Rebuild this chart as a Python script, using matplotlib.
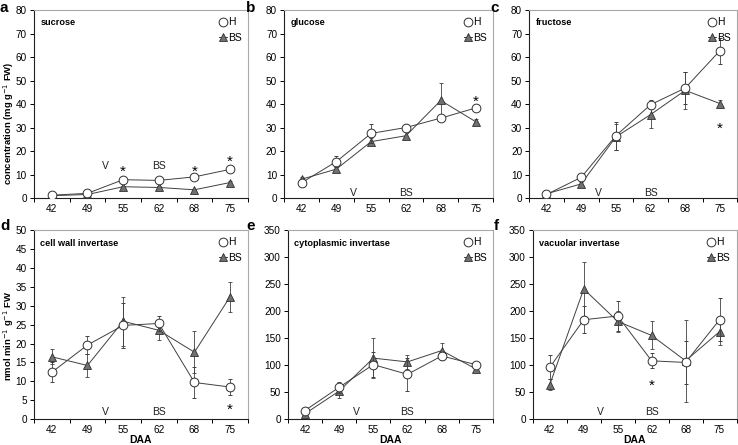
import numpy as np
import matplotlib
matplotlib.use("Agg")
import matplotlib.pyplot as plt
from matplotlib.lines import Line2D

plt.rcParams['font.family'] = ['Liberation Sans', 'DejaVu Sans']
plt.rcParams['font.size'] = 7.5

days = ['42', '49', '55', '62', '68', '75']

# sugars (mg g-1 FW)
suc_h = [1.2, 2.0, 7.8, 7.5, 9.0, 12.2]
suc_h_err = [0.3, 0.4, 0.6, 0.5, 0.6, 0.7]
suc_bs = [1.0, 1.5, 4.8, 4.5, 3.5, 6.6]
suc_bs_err = [0.3, 0.3, 0.5, 0.5, 0.5, 0.6]

glu_h = [6.5, 15.5, 27.5, 30.0, 34.0, 38.3]
glu_h_err = [0.8, 2.5, 4.0, 1.5, 1.2, 1.0]
glu_bs = [8.0, 12.3, 24.0, 26.5, 41.5, 32.5]
glu_bs_err = [0.8, 1.0, 1.5, 1.5, 7.5, 1.0]

fru_h = [1.5, 8.8, 26.5, 39.7, 46.8, 62.7]
fru_h_err = [0.5, 1.0, 6.0, 2.0, 7.0, 5.5]
fru_bs = [1.8, 6.0, 26.0, 35.5, 45.8, 40.2]
fru_bs_err = [0.5, 0.8, 5.5, 5.5, 8.0, 1.5]

# invertase activities (nmol min-1 g-1 FW)
cwi_h = [12.4, 19.6, 24.8, 25.3, 9.7, 8.5]
cwi_h_err = [2.7, 2.4, 6.0, 2.0, 4.2, 2.0]
cwi_bs = [16.5, 14.2, 25.9, 23.5, 17.7, 32.4]
cwi_bs_err = [2.0, 3.0, 6.5, 2.5, 5.6, 4.0]

cyt_h = [16, 59, 101, 83, 117, 101]
cyt_h_err = [3, 10, 23, 30, 8, 5]
cyt_bs = [10, 52, 113, 106, 127, 93]
cyt_bs_err = [3, 12, 37, 13, 14, 5]

vac_h = [96, 184, 191, 108, 105, 184]
vac_h_err = [22, 25, 27, 14, 40, 40]
vac_bs = [64, 241, 181, 155, 108, 162]
vac_bs_err = [10, 50, 20, 26, 76, 24]

panels = [
    # letter, title, H, Herr, BS, BSerr, ymax, ystep, V/BS label centre, stars (x index, y centre)
    ('a', 'sucrose', suc_h, suc_h_err, suc_bs, suc_bs_err, 80, 10, 13.6, [(2, 13.2), (4, 13.2), (5, 17.4)]),
    ('b', 'glucose', glu_h, glu_h_err, glu_bs, glu_bs_err, 80, 10, 2.2, [(5, 43.0)]),
    ('c', 'fructose', fru_h, fru_h_err, fru_bs, fru_bs_err, 80, 10, 2.2, [(5, 31.5)]),
    ('d', 'cell wall invertase', cwi_h, cwi_h_err, cwi_bs, cwi_bs_err, 50, 5, 1.85, [(5, 3.7)]),
    ('e', 'cytoplasmic invertase', cyt_h, cyt_h_err, cyt_bs, cyt_bs_err, 350, 50, 13, []),
    ('f', 'vacuolar invertase', vac_h, vac_h_err, vac_bs, vac_bs_err, 350, 50, 13, [(3, 70)]),
]

positions = [
    [0.046, 0.555, 0.290, 0.4225],
    [0.385, 0.555, 0.283, 0.4225],
    [0.717, 0.555, 0.282, 0.4225],
    [0.046, 0.058, 0.290, 0.425],
    [0.390, 0.058, 0.278, 0.425],
    [0.722, 0.058, 0.276, 0.425],
]
letter_pos = [(0, 444), (246, 444), (490, 444), (0, 226), (246, 226), (494, 226)]

line_col = '#404040'
tri_col = '#707070'

fig = plt.figure(figsize=(7.38, 4.45), dpi=100)
x = np.arange(len(days))

for i, (letter, title, h, herr, bs, bserr, ymax, ystep, lab_y, stars) in enumerate(panels):
    ax = fig.add_axes(positions[i])
    ax.errorbar(x, bs, yerr=bserr, color=line_col, lw=0.7, elinewidth=0.6,
                capsize=1.2, capthick=0.6, marker='^', ms=6, mfc=tri_col,
                mec='#303030', mew=0.6, zorder=3)
    ax.errorbar(x, h, yerr=herr, color=line_col, lw=0.7, elinewidth=0.6,
                capsize=1.2, capthick=0.6, marker='o', ms=6.3, mfc='white',
                mec='#303030', mew=0.7, zorder=4)

    ax.set_xlim(-0.5, 5.5)
    ax.set_ylim(0, ymax)
    ax.set_yticks(np.arange(0, ymax + 1, ystep))
    ax.set_xticks(x)
    ax.set_xticklabels(days)
    ax.set_xticks(np.arange(-0.5, 6, 1), minor=True)
    ax.tick_params(axis='x', which='major', length=0, pad=4, labelsize=7.2)
    ax.tick_params(axis='x', which='minor', length=3, direction='out', width=0.7)
    ax.tick_params(axis='y', length=3, direction='out', width=0.7, pad=2, labelsize=7.2)

    for side in ['left', 'bottom']:
        ax.spines[side].set_color('#202020')
        ax.spines[side].set_linewidth(0.8)
    for side in ['top', 'right']:
        ax.spines[side].set_color('#a8a8a8')
        ax.spines[side].set_linewidth(0.8)

    ax.text(0.03, 0.955, title, transform=ax.transAxes, fontsize=6.6,
            fontweight='bold', va='top', ha='left')
    for lx, txt in [(1.5, 'V'), (3, 'BS')]:
        ax.text(lx, lab_y, txt, ha='center', va='center', fontsize=7.5, color='#202020')
    for sx, sy in stars:
        ax.annotate('*', (sx, sy), xytext=(0, -3.3), textcoords='offset points',
                    ha='center', va='center', fontsize=11)

    handles = [
        Line2D([], [], color=line_col, lw=0.7, marker='o', ms=6.3, mfc='white', mec='#303030', mew=0.7),
        Line2D([], [], color=line_col, lw=0.7, marker='^', ms=6, mfc=tri_col, mec='#303030', mew=0.6),
    ]
    ax.legend(handles, ['H', 'BS'], loc='upper right', frameon=False, fontsize=7.5,
              handlelength=0.8, handletextpad=0.1, labelspacing=0.55,
              borderaxespad=0.2, bbox_to_anchor=(1.0, 0.995))

    lx, ly = letter_pos[i]
    fig.text(lx / 738, ly / 445, letter, fontsize=11, fontweight='bold',
             va='top', ha='left')

    if i == 0:
        ax.set_ylabel('concentration (mg g$^{-1}$ FW)', fontsize=6.8, fontweight='bold')
        ax.yaxis.set_label_coords(-0.082, 0.40)
    if i == 3:
        ax.set_ylabel('nmol min$^{-1}$ g$^{-1}$ FW', fontsize=6.8, fontweight='bold')
        ax.yaxis.set_label_coords(-0.082, 0.44)
    if i >= 3:
        ax.set_xlabel('DAA', fontsize=7.5, fontweight='bold', labelpad=0)

fig.savefig('out.png', dpi=100)
